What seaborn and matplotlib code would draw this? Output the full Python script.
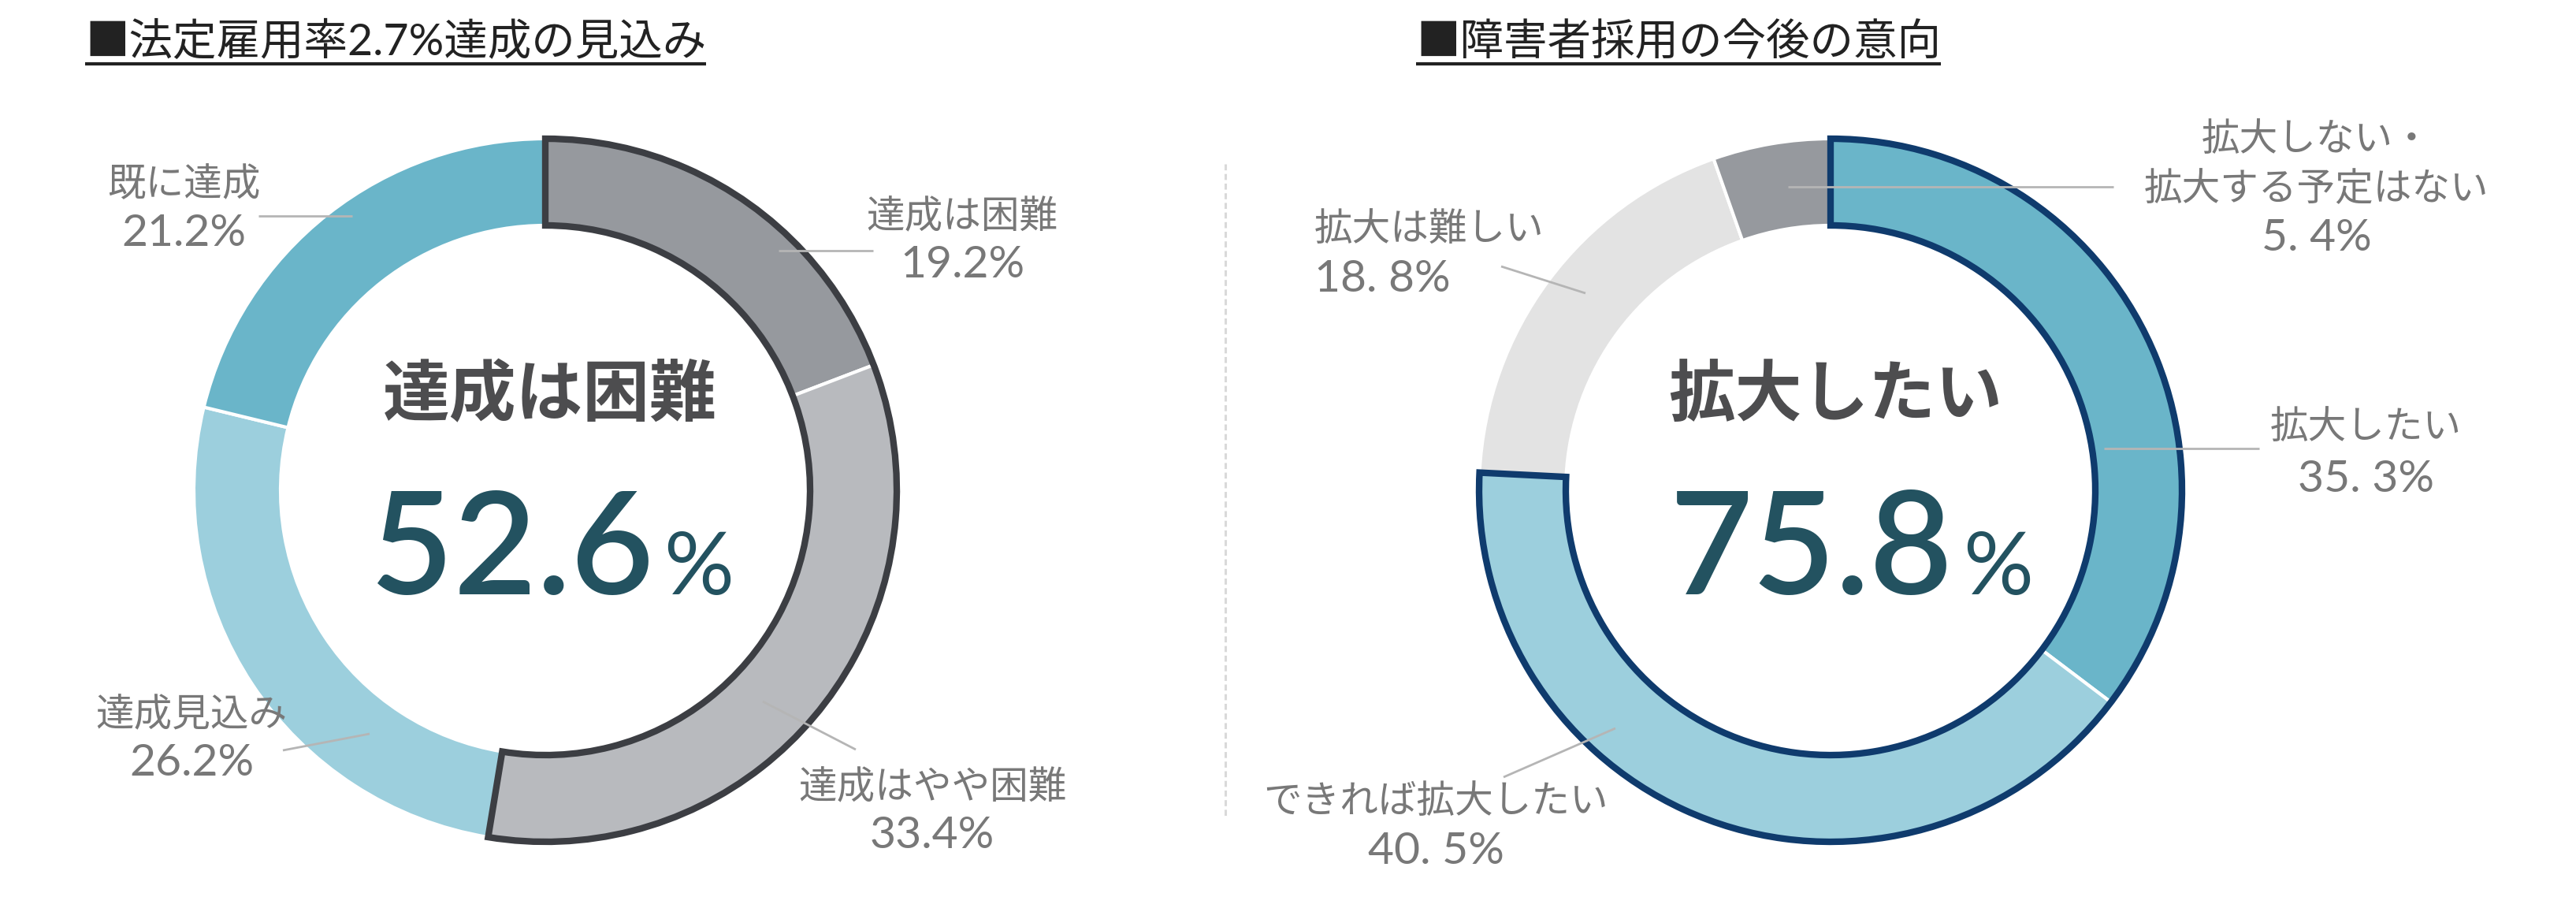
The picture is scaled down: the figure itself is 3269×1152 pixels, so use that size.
"""
Two donut charts: outlook for the 2.7% statutory employment rate and
future intentions for hiring people with disabilities.
Writes out.png (3269 x 1152).
"""

import matplotlib
matplotlib.use("Agg")
import matplotlib.pyplot as plt
import seaborn as sns

W, H = 3269, 1152
DPI = 100

# ---------------------------------------------------------------------------
# Data
# ---------------------------------------------------------------------------

rate_title = "■法定雇用率2.7%達成の見込み"
rate_labels = ["達成は困難", "達成はやや困難", "達成見込み", "既に達成"]
rate_values = [19.2, 33.4, 26.2, 21.2]
rate_headline = "達成は困難"      # = first two slices
rate_hi_count = 2

hire_title = "■障害者採用の今後の意向"
hire_labels = ["拡大したい", "できれば拡大したい", "拡大は難しい", "拡大しない・\n拡大する予定はない"]
hire_values = [35.3, 40.5, 18.8, 5.4]
hire_headline = "拡大したい"       # = first two slices
hire_hi_count = 2

# ---------------------------------------------------------------------------
# Styling / layout (image pixels, y measured from the top)
# ---------------------------------------------------------------------------

rate_colors = ["#96999e", "#b8babe", "#9ccfdd", "#6ab5c9"]
hire_colors = ["#6ab5c9", "#9ccfdd", "#e3e3e3", "#96999e"]
rate_edge = "#3c3e43"
hire_edge = "#0f3b6d"

R_OUT, R_IN = 446, 336
rate_center = (692, 622)
hire_center = (2323, 622)

LABEL_COLOR = "#787878"
LEADER_COLOR = "#b5b5b5"
NUM_COLOR = "#235260"
HEAD_COLOR = "#4d4d4f"

# label blocks: (x, first line y, line step, horizontal alignment)
rate_label_pos = [(1221, 276, 60, "center"), (1183, 1000, 60, "center"),
                  (243, 908, 61, "center"), (233, 234, 62, "center")]
hire_label_pos = [(3002, 542, 67, "center"), (1822, 1017, 63, "center"),
                  (1668, 292, 62, "left"), (2940, 177, 63, "center")]

rate_leaders = [((988, 318), (1108, 318)), ((968, 890), (1086, 951)),
                ((359, 952), (469, 931)), ((328, 274), (447, 274))]
hire_leaders = [((2670, 569), (2867, 569)), ((1908, 986), (2050, 924)),
                ((1905, 338), (2012, 372)), ((2269, 237), (2682, 237))]

sns.set_theme(style="white")
plt.rcParams["font.family"] = ["Noto Sans CJK JP", "DejaVu Sans"]
NUM_FONT = ["Lato", "DejaVu Sans"]
MIX_FONT = ["Lato", "Noto Sans CJK JP", "DejaVu Sans"]


def Y(y):
    return H - y


def draw_donut(ax, values, colors, center, hi_count, edge):
    cx, cy = center
    ax.pie(values, colors=colors, radius=R_OUT, center=(cx, Y(cy)),
           startangle=90, counterclock=False,
           wedgeprops=dict(width=R_OUT - R_IN, edgecolor="white", linewidth=3))

    # outline around the highlighted group of slices
    hi = sum(values[:hi_count])
    wedges, _ = ax.pie([hi, sum(values) - hi], radius=R_OUT, center=(cx, Y(cy)),
                       startangle=90, counterclock=False,
                       wedgeprops=dict(width=R_OUT - R_IN, facecolor="none",
                                       edgecolor=edge, linewidth=6, joinstyle="miter"))
    wedges[1].set_visible(False)
    for w in wedges:
        w.set_zorder(3)
    return hi


def draw_labels(ax, labels, values, positions, leaders, sep):
    for lab, val, (x, y, step, ha) in zip(labels, values, positions):
        lines = lab.split("\n")
        for i, line in enumerate(lines):
            ax.text(x, Y(y + i * step), line, ha=ha, va="center",
                    fontsize=35, color=LABEL_COLOR, zorder=5)
        # percentage line, in the wider latin face
        ax.text(x, Y(y + len(lines) * step), f"{val:.1f}%".replace(".", sep),
                ha=ha, va="center", fontsize=41, family=NUM_FONT,
                color=LABEL_COLOR, zorder=5)
    for (x0, y0), (x1, y1) in leaders:
        ax.plot([x0, x1], [Y(y0), Y(y1)], color=LEADER_COLOR, lw=2,
                solid_capstyle="butt", zorder=4)


def draw_center(ax, center, headline, hi, num_right):
    cx, cy = center
    ax.text(cx + 6, Y(502), headline, ha="center", va="center", fontsize=61,
            fontweight="bold", color=HEAD_COLOR, zorder=5)
    ax.text(num_right, Y(754), f"{hi:.1f}", ha="right", va="baseline",
            fontsize=131, family=NUM_FONT, fontweight="semibold",
            color=NUM_COLOR, zorder=5)
    ax.text(num_right + 12, Y(754), "%", ha="left", va="baseline",
            fontsize=80, family=NUM_FONT, color=NUM_COLOR, zorder=5)


def draw_title(fig, ax, x, y, text):
    t = ax.text(x, Y(y), text, ha="left", va="center", fontsize=40,
                family=MIX_FONT, color="#222222")
    fig.canvas.draw()
    bb = t.get_window_extent()
    ax.plot([bb.x0, bb.x1], [Y(81), Y(81)], color="#222222", lw=3,
            solid_capstyle="butt")


fig = plt.figure(figsize=(W / DPI, H / DPI), dpi=DPI)
ax = fig.add_axes([0, 0, 1, 1])

rate_hi = draw_donut(ax, rate_values, rate_colors, rate_center, rate_hi_count, rate_edge)
hire_hi = draw_donut(ax, hire_values, hire_colors, hire_center, hire_hi_count, hire_edge)

ax.set_xlim(0, W)
ax.set_ylim(0, H)
ax.set_aspect("equal")
ax.axis("off")

draw_labels(ax, rate_labels, rate_values, rate_label_pos, rate_leaders, ".")
draw_labels(ax, hire_labels, hire_values, hire_label_pos, hire_leaders, ". ")

draw_center(ax, rate_center, rate_headline, rate_hi, 830)
draw_center(ax, hire_center, hire_headline, hire_hi, 2479)

# dotted divider between the two charts
ax.plot([1555, 1555], [Y(208), Y(1036)], color="#d9d9d9", lw=2.2,
        linestyle=(0, (2.5, 1.5)))

draw_title(fig, ax, 108, 54, rate_title)
draw_title(fig, ax, 1797, 54, hire_title)

fig.savefig("out.png", dpi=DPI)
